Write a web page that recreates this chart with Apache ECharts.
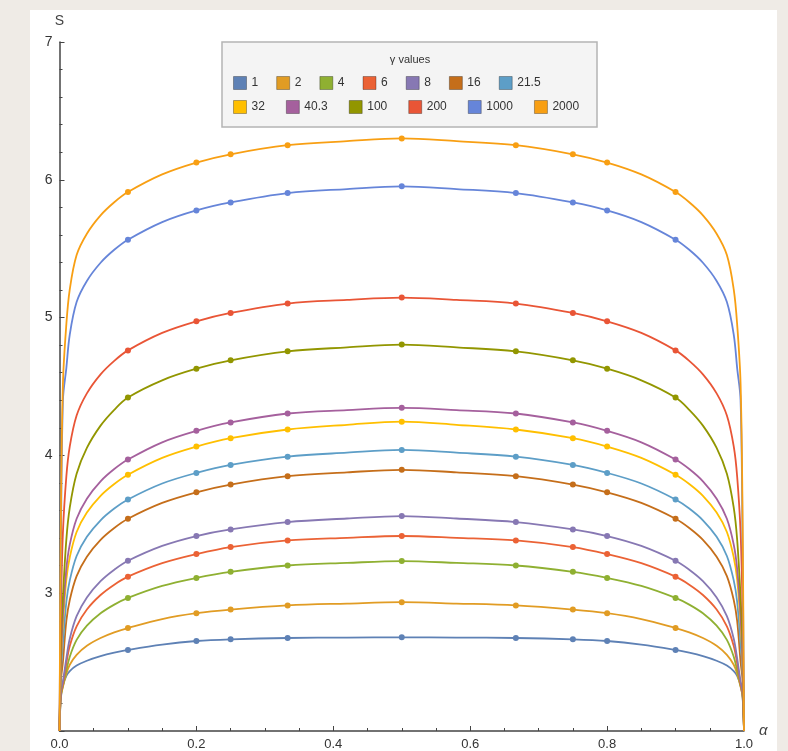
<!DOCTYPE html>
<html>
<head>
<meta charset="utf-8">
<script src="https://cdn.jsdelivr.net/npm/echarts@6/dist/echarts.min.js"></script>
<style>
  html, body { margin: 0; padding: 0; background: #efebe6; }
  #main { width: 788px; height: 751px; }
</style>
</head>
<body>
<div id="main"></div>
<script>
// alpha grid (x values)
const alpha = [0, 0.002, 0.005, 0.01, 0.015, 0.025, 0.04, 0.06, 0.08, 0.1, 0.15, 0.2, 0.25, 0.3333, 0.42, 0.5,
  0.58, 0.6667, 0.75, 0.8, 0.85, 0.9, 0.92, 0.94, 0.96, 0.975, 0.985, 0.99, 0.995, 0.998, 1];
// points that carry a dot marker
const markerAlpha = [0.1, 0.2, 0.25, 0.3333, 0.5, 0.6667, 0.75, 0.8, 0.9];

const gammaNames = ['1', '2', '4', '6', '8', '16', '21.5', '32', '40.3', '100', '200', '1000', '2000'];

// S values, one array per gamma
const s1 = [2.0, 2.24, 2.33, 2.40, 2.435, 2.475, 2.51, 2.543, 2.568, 2.588, 2.627, 2.653, 2.665, 2.675, 2.678, 2.68,
  2.678, 2.675, 2.665, 2.653, 2.627, 2.588, 2.568, 2.543, 2.51, 2.475, 2.435, 2.40, 2.33, 2.24, 2.0];
const s2 = [2.0, 2.25, 2.32, 2.415, 2.481, 2.553, 2.619, 2.675, 2.716, 2.747, 2.812, 2.855, 2.881, 2.911, 2.925, 2.935,
  2.925, 2.911, 2.881, 2.855, 2.812, 2.747, 2.716, 2.675, 2.619, 2.553, 2.481, 2.415, 2.32, 2.25, 2.0];
const s4 = [2.0, 2.26, 2.33, 2.439, 2.539, 2.661, 2.764, 2.854, 2.917, 2.966, 3.053, 3.111, 3.155, 3.201, 3.22, 3.233,
  3.22, 3.201, 3.155, 3.111, 3.053, 2.966, 2.917, 2.854, 2.764, 2.661, 2.539, 2.439, 2.33, 2.26, 2.0];
const s6 = [2.0, 2.27, 2.34, 2.491, 2.617, 2.76, 2.882, 2.987, 3.062, 3.12, 3.218, 3.284, 3.335, 3.383, 3.402, 3.415,
  3.402, 3.383, 3.335, 3.284, 3.218, 3.12, 3.062, 2.987, 2.882, 2.76, 2.617, 2.491, 2.34, 2.27, 2.0];
const s8 = [2.0, 2.28, 2.36, 2.527, 2.67, 2.833, 2.969, 3.087, 3.17, 3.235, 3.343, 3.415, 3.463, 3.516, 3.542, 3.56,
  3.542, 3.516, 3.463, 3.415, 3.343, 3.235, 3.17, 3.087, 2.969, 2.833, 2.67, 2.527, 2.36, 2.28, 2.0];
const s16 = [2.0, 2.36, 2.501, 2.799, 2.951, 3.124, 3.265, 3.387, 3.473, 3.54, 3.655, 3.732, 3.788, 3.849, 3.877, 3.895,
  3.877, 3.849, 3.788, 3.732, 3.655, 3.54, 3.473, 3.387, 3.265, 3.124, 2.951, 2.799, 2.501, 2.36, 2.0];
const s21 = [2.0, 2.42, 2.633, 2.938, 3.093, 3.27, 3.409, 3.529, 3.614, 3.68, 3.796, 3.873, 3.931, 3.991, 4.02, 4.04,
  4.02, 3.991, 3.931, 3.873, 3.796, 3.68, 3.614, 3.529, 3.409, 3.27, 3.093, 2.938, 2.633, 2.42, 2.0];
const s32 = [2.0, 2.48, 2.781, 3.099, 3.261, 3.444, 3.585, 3.707, 3.793, 3.86, 3.982, 4.064, 4.125, 4.188, 4.222, 4.245,
  4.222, 4.188, 4.125, 4.064, 3.982, 3.86, 3.793, 3.707, 3.585, 3.444, 3.261, 3.099, 2.781, 2.48, 2.0];
const s40 = [2.0, 2.5, 2.841, 3.176, 3.352, 3.54, 3.686, 3.812, 3.901, 3.97, 4.095, 4.178, 4.239, 4.304, 4.329, 4.345,
  4.329, 4.304, 4.239, 4.178, 4.095, 3.97, 3.901, 3.812, 3.686, 3.54, 3.352, 3.176, 2.841, 2.5, 2.0];
const s100 = [2.0, 2.6, 2.972, 3.389, 3.621, 3.866, 4.054, 4.216, 4.331, 4.42, 4.545, 4.629, 4.69, 4.755, 4.784, 4.804,
  4.784, 4.755, 4.69, 4.629, 4.545, 4.42, 4.331, 4.216, 4.054, 3.866, 3.621, 3.389, 2.972, 2.6, 2.0];
const s200 = [2.0, 2.85, 3.44, 3.847, 4.065, 4.289, 4.45, 4.588, 4.686, 4.762, 4.889, 4.973, 5.034, 5.102, 5.128, 5.145,
  5.128, 5.102, 5.034, 4.973, 4.889, 4.762, 4.686, 4.588, 4.45, 4.289, 4.065, 3.847, 3.44, 2.85, 2.0];
const s1000 = [2.0, 3.3, 4.40, 4.634, 4.877, 5.113, 5.266, 5.398, 5.492, 5.565, 5.693, 5.778, 5.836, 5.904, 5.933, 5.953,
  5.933, 5.904, 5.836, 5.778, 5.693, 5.565, 5.492, 5.398, 5.266, 5.113, 4.877, 4.634, 4.40, 3.3, 2.0];
const s2000 = [2.0, 3.5, 4.52, 4.951, 5.205, 5.454, 5.609, 5.742, 5.837, 5.911, 6.039, 6.125, 6.185, 6.251, 6.28, 6.30,
  6.28, 6.251, 6.185, 6.125, 6.039, 5.911, 5.837, 5.742, 5.609, 5.454, 5.205, 4.951, 4.52, 3.5, 2.0];

const seriesValues = [s1, s2, s4, s6, s8, s16, s21, s32, s40, s100, s200, s1000, s2000];

const colors = ['#5E81B5', '#E19C24', '#8FB032', '#EB6235', '#8778B3', '#C56E1A', '#5D9EC7',
  '#FFBF00', '#A5609D', '#929600', '#E95536', '#6685D9', '#F89F13'];

const xTicks = [0, 0.2, 0.4, 0.6, 0.8, 1.0];
const yTicks = [3, 4, 5, 6, 7];

const myChart = echarts.init(document.getElementById('main'), null, { renderer: 'canvas' });

const series = seriesValues.map((vals, k) => ({
  name: gammaNames[k],
  type: 'line',
  smooth: 0.35,
  showSymbol: true,
  showAllSymbol: true,
  symbolSize: 6,
  color: colors[k],
  lineStyle: { width: 1.8 },
  emphasis: { disabled: true },
  data: alpha.map((a, i) => ({
    value: [a, vals[i]],
    symbol: markerAlpha.includes(a) ? 'circle' : 'none'
  }))
}));

const legendText = { color: '#333', fontSize: 12, fontFamily: 'Liberation Sans, Arial, sans-serif' };
const legendCommon = {
  orient: 'horizontal',
  left: 233,
  padding: 0,
  z: 20,
  icon: 'rect',
  itemWidth: 13,
  itemHeight: 13,
  selectedMode: false,
  textStyle: legendText,
  itemStyle: { borderColor: 'rgba(0,0,0,0.3)', borderWidth: 1 }
};

const option = {
  animation: false,
  backgroundColor: 'transparent',
  textStyle: { fontFamily: 'Liberation Sans, Arial, sans-serif' },
  graphic: [
    { type: 'rect', z: -10, shape: { x: 30, y: 10, width: 747, height: 760 }, style: { fill: '#ffffff' } },
    { type: 'rect', z: 3, shape: { x: 222, y: 42, width: 375, height: 85 },
      style: { fill: '#f4f4f4', stroke: '#b4b4b4', lineWidth: 1.5 } },
    { type: 'text', z: 6, x: 410, y: 60, style: { text: 'γ values', fill: '#333', fontSize: 11,
      fontFamily: 'Liberation Sans, Arial, sans-serif', align: 'center', verticalAlign: 'middle' } }
  ],
  legend: [
    Object.assign({}, legendCommon, { top: 76, itemGap: 18, data: gammaNames.slice(0, 7) }),
    Object.assign({}, legendCommon, { top: 100, itemGap: 21, data: gammaNames.slice(7) })
  ],
  grid: { left: 59.5, right: 44, top: 42, bottom: 20, containLabel: false },
  xAxis: {
    type: 'value',
    min: 0,
    max: 1,
    interval: 0.2,
    name: 'α',
    nameLocation: 'end',
    nameGap: 12,
    nameTextStyle: { fontSize: 15, fontStyle: 'italic', color: '#444', verticalAlign: 'middle' },
    axisLine: { show: true, lineStyle: { color: '#444', width: 1.5 } },
    axisTick: { show: true, inside: true, length: 5, lineStyle: { color: '#444' } },
    minorTick: { show: true, splitNumber: 4, length: 3, lineStyle: { color: '#444' } },
    splitLine: { show: false },
    axisLabel: {
      margin: 7, fontSize: 13, color: '#333',
      formatter: v => (xTicks.some(t => Math.abs(t - v) < 1e-9) ? v.toFixed(1) : '')
    }
  },
  yAxis: {
    type: 'value',
    min: 2,
    max: 7,
    interval: 1,
    name: 'S',
    nameLocation: 'end',
    nameGap: 14,
    nameTextStyle: { fontSize: 14, color: '#444' },
    axisLine: { show: true, lineStyle: { color: '#444', width: 1.5 } },
    axisTick: { show: true, inside: true, length: 5, lineStyle: { color: '#444' } },
    minorTick: { show: true, splitNumber: 5, length: 3, lineStyle: { color: '#444' } },
    splitLine: { show: false },
    axisLabel: {
      margin: 7, fontSize: 14, color: '#333',
      formatter: v => (yTicks.includes(v) ? String(v) : '')
    }
  },
  series: series
};

myChart.setOption(option);
</script>
</body>
</html>
